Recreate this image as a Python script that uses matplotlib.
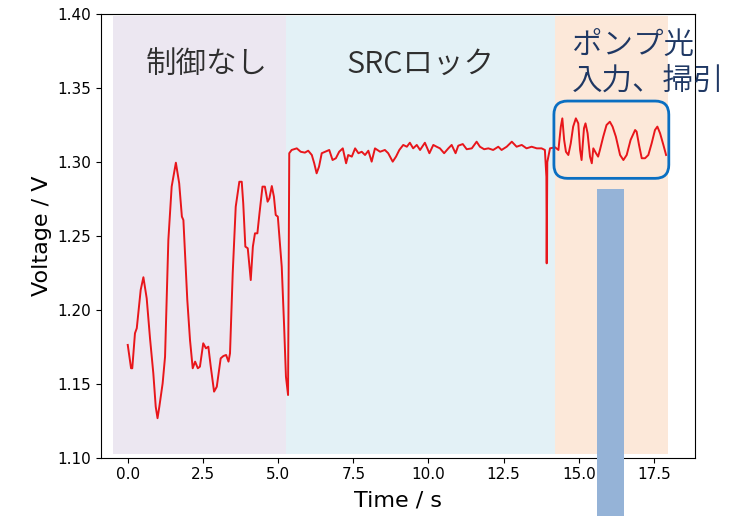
import matplotlib.pyplot as plt
from matplotlib.patches import FancyBboxPatch, Rectangle

plt.rcParams['font.family'] = ['Noto Sans CJK JP', 'DejaVu Sans']

# 時間 / 電圧 (読み取り値)
t_free = [0.00, 0.11, 0.15, 0.24, 0.30, 0.43, 0.52, 0.63, 0.74, 0.85, 0.93, 0.99,
          1.05, 1.16, 1.24, 1.35, 1.46, 1.60, 1.71, 1.80, 1.85, 1.98, 2.07, 2.16,
          2.24, 2.33, 2.40, 2.51, 2.60, 2.68, 2.76, 2.87, 2.96, 3.09, 3.18, 3.27,
          3.35, 3.40, 3.49, 3.59, 3.71, 3.79, 3.84, 3.91, 3.99, 4.09, 4.16, 4.23,
          4.31, 4.38, 4.48, 4.56, 4.65, 4.71, 4.79, 4.86, 4.92, 4.99, 5.12, 5.20,
          5.26, 5.33]
v_free = [1.1763, 1.1605, 1.1605, 1.1842, 1.1876, 1.2135, 1.2221, 1.2078, 1.1808,
          1.1571, 1.1345, 1.1267, 1.1345, 1.1503, 1.1683, 1.2473, 1.2834, 1.2996,
          1.2857, 1.2631, 1.2608, 1.2067, 1.1796, 1.1605, 1.1650, 1.1605, 1.1616,
          1.1774, 1.1740, 1.1751, 1.1616, 1.1447, 1.1480, 1.1672, 1.1688, 1.1695,
          1.1650, 1.1706, 1.2248, 1.2698, 1.2867, 1.2867, 1.2721, 1.2428, 1.2417,
          1.2202, 1.2428, 1.2518, 1.2518, 1.2653, 1.2834, 1.2834, 1.2732, 1.2755,
          1.2838, 1.2766, 1.2642, 1.2631, 1.2292, 1.1886, 1.1548, 1.1424]

t_lock = [5.37, 5.45, 5.62, 5.75, 5.89, 6.00, 6.12, 6.20, 6.28, 6.36, 6.45, 6.56,
          6.70, 6.81, 6.92, 7.03, 7.15, 7.26, 7.33, 7.45, 7.56, 7.67, 7.78, 7.89,
          8.00, 8.11, 8.22, 8.39, 8.55, 8.66, 8.81, 8.92, 9.03, 9.16, 9.28, 9.38,
          9.49, 9.61, 9.72, 9.88, 10.03, 10.16, 10.27, 10.38, 10.52, 10.66, 10.77,
          10.90, 10.99, 11.14, 11.27, 11.44, 11.60, 11.71, 11.85, 11.99, 12.15,
          12.32, 12.43, 12.60, 12.77, 12.93, 13.10, 13.26, 13.43, 13.60, 13.76,
          13.87, 13.92, 13.93, 13.95, 14.04, 14.21]
v_lock = [1.3060, 1.3082, 1.3093, 1.3070, 1.3064, 1.3077, 1.3048, 1.2992, 1.2924,
          1.2969, 1.3060, 1.3070, 1.3082, 1.3014, 1.3026, 1.3070, 1.3093, 1.2992,
          1.3048, 1.3037, 1.3093, 1.3060, 1.3070, 1.3048, 1.3077, 1.3003, 1.3093,
          1.3070, 1.3082, 1.3060, 1.3003, 1.3037, 1.3082, 1.3116, 1.3104, 1.3131,
          1.3093, 1.3116, 1.3082, 1.3131, 1.3060, 1.3116, 1.3104, 1.3093, 1.3060,
          1.3093, 1.3116, 1.3060, 1.3111, 1.3122, 1.3087, 1.3093, 1.3138, 1.3104,
          1.3087, 1.3093, 1.3082, 1.3104, 1.3082, 1.3104, 1.3138, 1.3104, 1.3116,
          1.3093, 1.3104, 1.3093, 1.3093, 1.3082, 1.2900, 1.2315, 1.3000, 1.3093,
          1.3100]

t_pump = [14.32, 14.40, 14.45, 14.51, 14.57, 14.65, 14.73, 14.81, 14.90, 14.98,
          15.04, 15.09, 15.17, 15.22, 15.29, 15.37, 15.43, 15.48, 15.57, 15.64,
          15.70, 15.81, 15.92, 16.03, 16.12, 16.23, 16.37, 16.48, 16.59, 16.72,
          16.87, 16.92, 17.00, 17.09, 17.20, 17.31, 17.42, 17.53, 17.61, 17.70,
          17.81, 17.90]
v_pump = [1.3082, 1.3240, 1.3296, 1.3150, 1.3070, 1.3048, 1.3127, 1.3240, 1.3296,
          1.3262, 1.3082, 1.3014, 1.3229, 1.3262, 1.3195, 1.3037, 1.2992, 1.3093,
          1.3060, 1.3037, 1.3082, 1.3172, 1.3251, 1.3273, 1.3240, 1.3172, 1.3048,
          1.3014, 1.3048, 1.3150, 1.3217, 1.3206, 1.3116, 1.3026, 1.3026, 1.3048,
          1.3127, 1.3217, 1.3240, 1.3195, 1.3116, 1.3048]

time = t_free + t_lock + t_pump
volt = v_free + v_lock + v_pump

# 区間の境界と色、ラベル
edges = [-0.49, 5.26, 14.20, 17.95]
band_colors = ['#ece7f1', '#e3f1f6', '#fce8d9']
band_labels = ['制御なし', 'SRCロック', 'ポンプ光\n入力、掃引']

fig = plt.figure(figsize=(7.42, 5.16), dpi=100)
ax = fig.add_axes([0.1361, 0.1130, 0.8001, 0.8593])

for i in range(3):
    ax.axvspan(edges[i], edges[i + 1], ymin=0.0083, ymax=0.997,
               color=band_colors[i], lw=0, zorder=0)

ax.plot(time, volt, color='#e8161b', lw=1.4, zorder=3)

ax.text(2.63, 1.3660, band_labels[0], fontsize=22, color='#2e2e2e',
        ha='center', va='center', fontweight=350)
ax.text(9.72, 1.3660, band_labels[1], fontsize=22, color='#2e2e2e',
        ha='center', va='center', fontweight=350)
ax.text(14.78, 1.3668, band_labels[2], fontsize=22, color='#1f3864',
        ha='left', va='center', linespacing=1.2, clip_on=False,
        fontweight=350)

# 掃引部分を囲む枠
box = FancyBboxPatch((14.17, 1.289), 17.99 - 14.17, 1.3413 - 1.289,
                     boxstyle='round,pad=0,rounding_size=0.45',
                     mutation_aspect=30.08 / 1478,
                     fc='none', ec='#0a6fc2', lw=2, zorder=5)
ax.add_patch(box)

# 下向きの帯
bar = Rectangle((15.61, 1.2816), 16.50 - 15.61, -0.3, color='#95b3d7',
                lw=0, zorder=10, clip_on=False)
ax.add_patch(bar)

ax.set_xlim(-0.89, 18.85)
ax.set_ylim(1.10, 1.40)
ax.set_xticks([0, 2.5, 5, 7.5, 10, 12.5, 15, 17.5])
ax.set_xlabel('Time / s', fontsize=16, family='DejaVu Sans', labelpad=6)
ax.set_ylabel('Voltage / V', fontsize=16, family='DejaVu Sans')
ax.tick_params(axis='both', labelsize=11)
for lab in ax.get_xticklabels() + ax.get_yticklabels():
    lab.set_family('DejaVu Sans')

fig.savefig('out.png', dpi=100)
